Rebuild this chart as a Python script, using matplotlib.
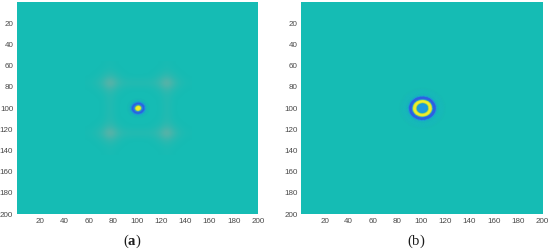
import numpy as np
import matplotlib
matplotlib.use("Agg")
import matplotlib.pyplot as plt
from matplotlib.colors import LinearSegmentedColormap

plt.rcParams['font.family'] = ['Liberation Sans', 'DejaVu Sans']
plt.rcParams['mathtext.fontset'] = 'custom'
plt.rcParams['mathtext.bf'] = 'Liberation Serif:bold'
plt.rcParams['mathtext.rm'] = 'Liberation Serif'

tick_values = [20, 40, 60, 80, 100, 120, 140, 160, 180, 200]
panel_labels = [r'($\mathbf{a}$)', r'($\mathrm{b}$)']

radius_a = [0, 1.9, 2.6, 3.3, 4.6, 5.4, 6.2, 7.2, 9]
level_a = [1.0, 1.0, 0.7, 0.15, 0.0, 0.12, 0.3, 0.45, 0.5]
radius_b = [0, 3.6, 4.5, 5.2, 5.8, 7.3, 8.0, 8.6, 9.2, 10.8, 11.6, 12.4, 14, 17, 19]
level_b = [0.2, 0.2, 0.3, 0.85, 1.0, 1.0, 0.85, 0.25, 0.02, 0.02, 0.22, 0.43, 0.47, 0.47, 0.5]

# faint grey side lobes of panel (a), sampled around the centre
lobes_a = [
    [0, 0, 0, .04, 0, 0, 0, 0, 0, 0, 0, .04, 0, 0, 0],
    [0, 0, .02, .1, .02, 0, 0, 0, 0, 0, .02, .1, .02, 0, 0],
    [0, .02, .12, .3, .14, .02, 0, 0, 0, .02, .14, .3, .12, .02, 0],
    [.03, .1, .3, .85, .36, .18, .16, .16, .16, .18, .36, .85, .3, .1, .03],
    [0, .02, .12, .34, .12, .02, 0, 0, 0, .02, .12, .34, .12, .02, 0],
    [0, 0, .02, .18, .02, 0, 0, 0, 0, 0, .02, .18, .02, 0, 0],
    [0, 0, 0, .15, 0, 0, 0, 0, 0, 0, 0, .15, 0, 0, 0],
    [0, 0, 0, .15, 0, 0, 0, 0, 0, 0, 0, .15, 0, 0, 0],
    [0, 0, 0, .15, 0, 0, 0, 0, 0, 0, 0, .15, 0, 0, 0],
    [0, 0, .02, .18, .02, 0, 0, 0, 0, 0, .02, .18, .02, 0, 0],
    [0, .02, .12, .34, .12, .02, 0, 0, 0, .02, .12, .34, .12, .02, 0],
    [.03, .1, .3, .85, .36, .18, .16, .16, .16, .18, .36, .85, .3, .1, .03],
    [0, .02, .12, .3, .14, .02, 0, 0, 0, .02, .14, .3, .12, .02, 0],
    [0, 0, .02, .1, .02, 0, 0, 0, 0, 0, .02, .1, .02, 0, 0],
    [0, 0, 0, .04, 0, 0, 0, 0, 0, 0, 0, .04, 0, 0, 0],
]

BG = '#15bcb4'
GREY = '#86ac9f'
parula_like = LinearSegmentedColormap.from_list('p', [
    (0.0, '#3258e2'), (0.2, '#1f9ae0'), (0.5, BG), (0.75, '#86c868'), (1.0, '#f4f02a')])
grey_map = LinearSegmentedColormap.from_list('g', [BG, GREY])

W, H = 550, 251
fig = plt.figure(figsize=(W / 100, H / 100), dpi=100, facecolor='white')
boxes = [(16.7, 2.7, 258.4, 214.7), (301.0, 2.7, 542.6, 214.7)]
label_x = [132.5, 416.5]


def radial(ax, r, v, centre=(101, 101)):
    theta = np.deg2rad(np.arange(0, 361, 6))
    rr, tt = np.meshgrid(np.array(r, dtype=float), theta)
    vv = np.tile(np.array(v, dtype=float), (len(theta), 1))
    ax.pcolormesh(centre[0] + rr * np.cos(tt), centre[1] + rr * np.sin(tt), vv,
                  shading='gouraud', cmap=parula_like, vmin=0, vmax=1, zorder=3)


for i, (x0, y0, x1, y1) in enumerate(boxes):
    ax = fig.add_axes([x0 / W, 1 - y1 / H, (x1 - x0) / W, (y1 - y0) / H])
    ax.set_facecolor(BG)
    if i == 0:
        ax.imshow(np.array(lobes_a), extent=(57, 145, 145, 57), cmap=grey_map,
                  vmin=0, vmax=1, interpolation='bicubic', aspect='auto', zorder=1)
        radial(ax, radius_a, level_a)
    else:
        radial(ax, radius_b, level_b)
    ax.set_xlim(0.5, 200.5)
    ax.set_ylim(200.5, 0.5)
    ax.set_xticks(tick_values)
    ax.set_yticks(tick_values)
    ax.tick_params(length=0, labelsize=5.8, labelcolor='#484848', pad=2.5)
    for s in ax.spines.values():
        s.set_visible(False)
    fig.text(label_x[i] / W, 1 - 241 / H, panel_labels[i], fontsize=10.5, ha='center',
             va='center', color='#1c1c1c', family='Liberation Serif')

fig.savefig('out.png', dpi=100)
